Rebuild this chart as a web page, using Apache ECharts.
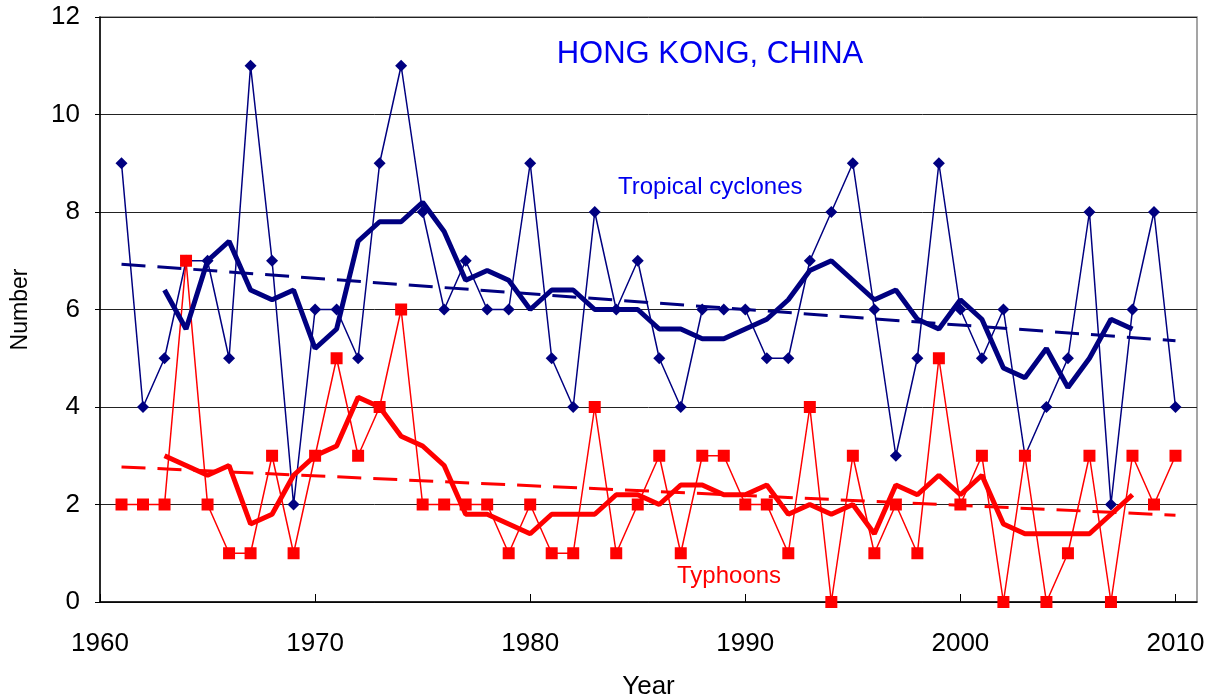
<!DOCTYPE html>
<html>
<head>
<meta charset="utf-8">
<title>Hong Kong tropical cyclones</title>
<script src="https://cdn.jsdelivr.net/npm/echarts@6/dist/echarts.min.js"></script>
<style>
  html, body { margin: 0; padding: 0; background: #fff; }
  #main { width: 1216px; height: 699px; }
</style>
</head>
<body>
<div id="main"></div>
<script>
// years and annual counts
var years = [1961,1962,1963,1964,1965,1966,1967,1968,1969,1970,
             1971,1972,1973,1974,1975,1976,1977,1978,1979,1980,
             1981,1982,1983,1984,1985,1986,1987,1988,1989,1990,
             1991,1992,1993,1994,1995,1996,1997,1998,1999,2000,
             2001,2002,2003,2004,2005,2006,2007,2008,2009,2010];
var cyclones = [9,4,5,7,7,5,11,7,2,6,
                6,5,9,11,8,6,7,6,6,9,
                5,4,8,6,7,5,4,6,6,6,
                5,5,7,8,9,6,3,5,9,6,
                5,6,3,4,5,8,2,6,8,4];
var typhoons = [2,2,2,7,2,1,1,3,1,3,
                5,3,4,6,2,2,2,2,1,2,
                1,1,4,1,2,3,1,3,3,2,
                2,1,4,0,3,1,2,1,5,2,
                3,0,3,0,1,3,0,3,2,3];
// 5-year running means, 1963-2008
var meanYears = [1963,1964,1965,1966,1967,1968,1969,1970,1971,1972,
                 1973,1974,1975,1976,1977,1978,1979,1980,1981,1982,
                 1983,1984,1985,1986,1987,1988,1989,1990,1991,1992,
                 1993,1994,1995,1996,1997,1998,1999,2000,2001,2002,
                 2003,2004,2005,2006,2007,2008];
var cycMean = [6.4,5.6,7.0,7.4,6.4,6.2,6.4,5.2,5.6,7.4,
               7.8,7.8,8.2,7.6,6.6,6.8,6.6,6.0,6.4,6.4,
               6.0,6.0,6.0,5.6,5.6,5.4,5.4,5.6,5.8,6.2,
               6.8,7.0,6.6,6.2,6.4,5.8,5.6,6.2,5.8,4.8,
               4.6,5.2,4.4,5.0,5.8,5.6];
var tyMean = [3.0,2.8,2.6,2.8,1.6,1.8,2.6,3.0,3.2,4.2,
              4.0,3.4,3.2,2.8,1.8,1.8,1.6,1.4,1.8,1.8,
              1.8,2.2,2.2,2.0,2.4,2.4,2.2,2.2,2.4,1.8,
              2.0,1.8,2.0,1.4,2.4,2.2,2.6,2.2,2.6,1.6,
              1.4,1.4,1.4,1.4,1.8,2.2];
// linear trends (end points)
var trendYears = [1961, 2010];
var cycTrend = [6.93, 5.36];
var tyTrend = [2.77, 1.78];

var yTicks = [0, 2, 4, 6, 8, 10, 12];

function pairs(xs, ys) {
    var out = [];
    for (var i = 0; i < xs.length; i++) out.push([xs[i], ys[i]]);
    return out;
}

var FONT = "'Liberation Sans', Arial, sans-serif";
var NAVY = '#000080';
var RED = '#ff0000';

var myChart = echarts.init(document.getElementById('main'));

var option = {
    backgroundColor: '#fff',
    animation: false,
    title: {
        text: 'HONG KONG, CHINA',
        left: 705,
        textAlign: 'center',
        top: 34,
        textStyle: { color: '#0000ee', fontSize: 31, fontWeight: 'normal', fontFamily: FONT }
    },
    grid: {
        left: 100, right: 19, top: 17, bottom: 97,
        outerBoundsMode: 'none',
        show: true, borderColor: '#888', borderWidth: 1.5
    },
    graphic: [
        { type: 'text', left: 618, top: 175,
          style: { text: 'Tropical cyclones', fill: '#0000ee', font: '24px ' + FONT } },
        { type: 'text', left: 677, top: 564,
          style: { text: 'Typhoons', fill: RED, font: '24px ' + FONT } }
    ],
    xAxis: {
        type: 'value',
        min: 1960, max: 2011, interval: 10,
        name: 'Year', nameLocation: 'middle', nameGap: 72,
        nameTextStyle: { color: '#000', fontSize: 26, fontFamily: FONT },
        axisLine: { lineStyle: { color: '#000', width: 1.5 } },
        axisTick: { inside: true, length: 8, lineStyle: { color: '#000' } },
        axisLabel: {
            color: '#000', fontSize: 26, fontFamily: FONT, margin: 29, showMaxLabel: false,
            formatter: function (v) { return String(v); }
        },
        splitLine: { show: false }
    },
    yAxis: {
        type: 'value',
        min: yTicks[0], max: yTicks[yTicks.length - 1], interval: 2,
        name: 'Number', nameLocation: 'middle', nameGap: 68,
        nameTextStyle: { color: '#000', fontSize: 23, fontFamily: FONT },
        axisLine: { show: true, lineStyle: { color: '#000', width: 1.5 } },
        axisTick: { show: true, length: 5, lineStyle: { color: '#000' } },
        axisLabel: { color: '#000', fontSize: 26, fontFamily: FONT, margin: 20 },
        splitLine: { lineStyle: { color: '#222', width: 1 } }
    },
    series: [
        {
            name: 'Tropical cyclones', type: 'line',
            data: pairs(years, cyclones),
            symbol: 'diamond', symbolSize: 12,
            lineStyle: { color: NAVY, width: 1.5 },
            itemStyle: { color: NAVY }
        },
        {
            name: 'Typhoons', type: 'line',
            data: pairs(years, typhoons),
            symbol: 'rect', symbolSize: 12,
            lineStyle: { color: RED, width: 1.5 },
            itemStyle: { color: RED }
        },
        {
            name: 'TC 5-yr mean', type: 'line',
            data: pairs(meanYears, cycMean),
            symbol: 'none',
            lineStyle: { color: NAVY, width: 5 }
        },
        {
            name: 'Typhoon 5-yr mean', type: 'line',
            data: pairs(meanYears, tyMean),
            symbol: 'none',
            lineStyle: { color: RED, width: 5 }
        },
        {
            name: 'TC trend', type: 'line',
            data: pairs(trendYears, cycTrend),
            symbol: 'none',
            lineStyle: { color: NAVY, width: 3, type: [24, 12] }
        },
        {
            name: 'Typhoon trend', type: 'line',
            data: pairs(trendYears, tyTrend),
            symbol: 'none',
            lineStyle: { color: RED, width: 3, type: [24, 12] }
        }
    ]
};

myChart.setOption(option);
window.onresize = myChart.resize;
</script>
</body>
</html>
